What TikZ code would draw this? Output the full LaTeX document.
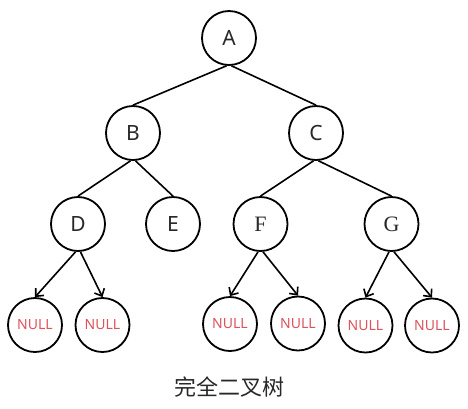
\documentclass[tikz,border=0pt]{standalone}
\usepackage{fontspec}
\setmainfont{Noto Sans}
\newfontfamily\serifletter{Liberation Serif}
\newfontfamily\cjk{Noto Sans CJK SC}
\usetikzlibrary{arrows.meta}
\definecolor{nullred}{RGB}{222,82,92}
\definecolor{lettergray}{RGB}{40,40,40}
\tikzset{
  treenode/.style={circle, draw=black, line width=1.8pt, minimum size=54pt, inner sep=0pt, font=\fontsize{21}{21}\selectfont, text=lettergray},
  nullnode/.style={circle, draw=black, line width=1.8pt, minimum size=54pt, inner sep=0pt, font=\fontsize{14}{14}\selectfont, text=nullred},
  edge/.style={line width=1.6pt, draw=black},
  arrowedge/.style={line width=1.6pt, draw=black, -{Straight Barb[length=6pt,width=11pt,line width=1.6pt]}},
}
\begin{document}
\begin{tikzpicture}[x=1pt,y=-1pt]
\useasboundingbox (0,0) rectangle (468,408);
\node[treenode] (A) at (229,38) {A};
\node[treenode] (B) at (133,133) {B};
\node[treenode] (C) at (316,133) {C};
\node[treenode] (D) at (78,224) {D};
\node[treenode] (E) at (173,224) {E};
\node[treenode, font=\serifletter\fontsize{22}{22}\selectfont] (F) at (260.5,224) {F};
\node[treenode, font=\serifletter\fontsize{22}{22}\selectfont] (G) at (391.5,224) {G};
\node[nullnode] (N1) at (35,325) {NULL};
\node[nullnode] (N2) at (102.5,325) {NULL};
\node[nullnode] (N3) at (230,324) {NULL};
\node[nullnode] (N4) at (298,323.5) {NULL};
\node[nullnode] (N5) at (365.5,325.5) {NULL};
\node[nullnode] (N6) at (432,325.5) {NULL};
\node[font=\cjk\fontsize{22}{22}\selectfont, text=lettergray] (cap) at (229,387) {完全二叉树};
\draw[edge] (A.265) -- (B.north);
\draw[edge] (A.275) -- (C.north);
\draw[edge] (B.265) -- (D.north);
\draw[edge] (B.275) -- (E.north);
\draw[edge] (C.265) -- (F.north);
\draw[edge] (C.275) -- (G.north);
\draw[arrowedge] (D.265) -- (N1.north);
\draw[arrowedge] (D.275) -- (N2.north);
\draw[arrowedge] (F.265) -- (N3.north);
\draw[arrowedge] (F.275) -- (N4.north);
\draw[arrowedge] (G.265) -- (N5.north);
\draw[arrowedge] (G.275) -- (N6.north);
\end{tikzpicture}
\end{document}
